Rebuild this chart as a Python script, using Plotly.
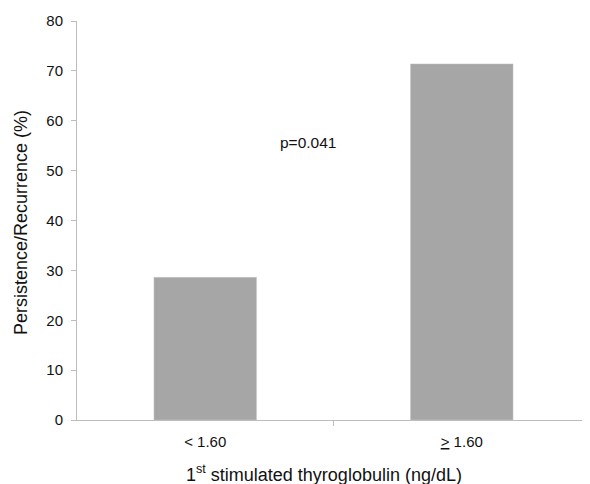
import plotly.graph_objects as go

categories = ["&lt; 1.60", "<u>&gt;</u> 1.60"]
values = [28.6, 71.4]
y_ticks = [0, 10, 20, 30, 40, 50, 60, 70, 80]
p_label = "p=0.041"
x_title = "1<sup>st</sup> stimulated thyroglobulin (ng/dL)"
y_title = "Persistence/Recurrence (%)"

fig = go.Figure()
fig.add_trace(go.Bar(
    x=[0, 1], y=values, width=0.4,
    marker=dict(color="#a6a6a6", line=dict(width=0.5, color="#c8c8c8")),
))

fig.add_annotation(x=0.4, y=55.7, text=p_label, showarrow=False,
                   font=dict(size=15.5, color="#111"))

fig.add_annotation(xref="paper", yref="paper", x=0.482, y=-0.135, text=x_title,
                   showarrow=False, font=dict(size=18, color="#111"), yanchor="middle")
fig.add_annotation(xref="paper", yref="paper", x=-0.108, y=0.495, text=y_title,
                   showarrow=False, textangle=-90, font=dict(size=18, color="#111"),
                   xanchor="center", yanchor="middle")

fig.update_layout(
    width=582, height=476,
    margin=dict(l=69, r=0, t=13, b=64),
    paper_bgcolor="white", plot_bgcolor="white",
    font=dict(family="Liberation Sans, Arial, sans-serif", color="#111"),
    showlegend=False,
    xaxis=dict(
        range=[-0.5, 1.5], tickvals=[0, 1], ticktext=categories,
        showline=True, linecolor="#bdbdbd", linewidth=1,
        ticks="outside", ticklen=8, tickcolor="rgba(0,0,0,0)",
        showgrid=False, zeroline=False, automargin=False,
        tickfont=dict(size=15),
    ),
    yaxis=dict(
        range=[0, 80], tickvals=y_ticks,
        showline=True, linecolor="#bdbdbd", linewidth=1,
        ticks="outside", ticklen=5, tickcolor="#bdbdbd",
        ticklabelstandoff=5,
        showgrid=False, zeroline=False, automargin=False,
        tickfont=dict(size=15),
    ),
)
# divider tick between categories
fig.add_shape(type="line", xref="x", yref="paper", x0=0.5, x1=0.5, y0=0, y1=-0.015,
              line=dict(color="#bdbdbd", width=1))

fig.write_html("out.html")
